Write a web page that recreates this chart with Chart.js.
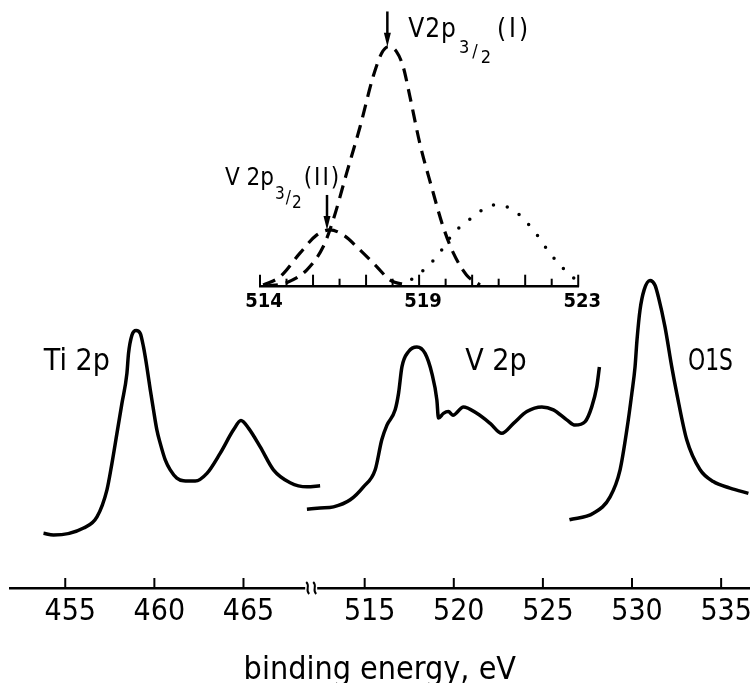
<!DOCTYPE html>
<html>
<head>
<meta charset="utf-8">
<script src="https://cdn.jsdelivr.net/npm/chart.js@4.4.1/dist/chart.umd.min.js"></script>
<style>
  body { margin: 0; background: #fff; }
  #wrap { position: relative; width: 753px; height: 683px; }
  #mainChart { position: absolute; left: 0; top: 0; }
  #insetChart { position: absolute; left: 200px; top: 0; }
</style>
</head>
<body>
<div id="wrap">
  <canvas id="mainChart" width="753" height="683"></canvas>
  <canvas id="insetChart" width="400" height="320"></canvas>
</div>
<script>
// main spectra: binding energy (eV) / intensity (arb. units, 0..100)
const tiEnergy = [453.78, 454.34, 456.03, 456.78, 457.34, 457.62, 457.90, 458.18, 458.46, 458.55, 458.74, 458.98,
  459.21, 459.39, 459.58, 459.77, 459.95, 460.14, 460.33, 460.61, 460.89, 461.26, 461.63, 462.29, 462.95, 463.69,
  464.44, 464.86, 465.28, 465.94, 466.68, 467.62, 468.56, 469.30];
const tiIntensity = [9.3, 9.0, 10.2, 12.1, 16.7, 21.2, 26.3, 31.4, 36.5, 39.9, 43.0, 43.8,
  43.3, 41.0, 37.6, 33.7, 30.3, 26.9, 24.6, 21.8, 20.1, 18.7, 18.25, 18.2, 19.5, 22.9,
  26.9, 28.5, 27.2, 24.0, 20.1, 17.9, 17.2, 17.4];

const vEnergy = [511.76, 512.50, 513.25, 514.19, 514.93, 515.59, 515.96, 516.25, 516.71, 516.90, 517.09, 517.46,
  517.93, 518.39, 518.77, 519.05, 519.14, 519.42, 519.70, 519.95, 520.54, 521.29, 522.04, 522.69, 523.35, 524.10,
  524.94, 525.59, 526.34, 526.81, 527.37, 527.74, 528.02, 528.17];
const vIntensity = [13.4, 13.6, 13.8, 15.0, 17.2, 20.1, 25.2, 27.7, 30.3, 33.1, 37.6, 40.2,
  41.0, 39.9, 36.5, 32.0, 28.9, 29.7, 30.0, 29.4, 30.8, 29.7, 28.0, 26.3, 28.0, 30.0,
  30.8, 30.3, 28.6, 27.7, 28.3, 30.8, 34.2, 37.6];

const oEnergy = [526.49, 527.83, 528.77, 529.33, 529.71, 529.99, 530.17, 530.28, 530.45, 530.68, 531.01, 531.29,
  531.48, 531.85, 532.23, 532.51, 533.07, 533.82, 534.56, 535.50, 536.53];
const oIntensity = [11.6, 12.7, 15.5, 20.1, 26.9, 33.1, 37.6, 42.2, 47.3, 50.7, 52.3, 51.5,
  49.5, 44.4, 37.6, 33.1, 25.2, 20.1, 18.1, 17.0, 16.1];

const mainTicks = [455, 460, 465, 515, 520, 525, 530, 535];

// Ti part is drawn left of the axis break, shifted up by AXIS_GAP eV
const AXIS_GAP = 43.2;
const AXIS_BREAK = 512.0;

// inset: V 2p3/2 components (I), (II) and the third (dotted) band
const fitEnergyI = [514.14, 514.75, 515.32, 515.79, 516.07, 516.45, 516.83, 517.20, 517.44, 517.63, 517.86, 518.05,
  518.24, 518.52, 518.85, 519.18, 519.47, 519.84, 520.22];
const fitIntensityI = [0.2, 1.4, 5.8, 14.0, 23.3, 39.6, 55.8, 73.3, 81.4, 83.7, 82.0, 76.7,
  66.3, 50.0, 34.9, 20.9, 11.7, 4.1, 0.6];

const fitEnergyII = [514.09, 514.57, 515.13, 515.60, 515.98, 516.36, 516.83, 517.30, 517.68, 518.15];
const fitIntensityII = [0.6, 3.5, 11.7, 18.0, 19.8, 18.0, 12.8, 7.0, 2.3, 0.6];

const fitEnergyIII = [517.96, 518.52, 519.00, 519.47, 520.03, 520.60, 521.16, 521.73, 522.20, 522.67, 522.95];
const fitIntensityIII = [0, 4.7, 10.5, 18.6, 24.4, 28.5, 26.8, 19.8, 11.7, 5.2, 2.3];

const insetTickValues = [514, 514.75, 515.5, 516.25, 517, 517.75, 518.5, 519.25, 520, 520.75, 521.5, 522.25, 523];
const insetTickLabels = ['514', '', '', '', '', '', '519', '', '', '', '', '', '523'];

const FONT = "'DejaVu Sans Condensed', 'Liberation Sans', Arial, sans-serif";
const toXY = (xs, ys, shift = 0) => xs.map((x, i) => ({ x: x + shift, y: ys[i] }));

const mainLabels = [
  { text: 'Ti 2p', x: 453.8 + AXIS_GAP, y: 37 },
  { text: 'V 2p', x: 520.64, y: 37 },
  { text: 'O1S', x: 533.14, y: 37, maxWidth: 45 }
];

const mainDecor = {
  id: 'mainDecor',
  afterDraw(chart) {
    const { ctx, chartArea, scales: { x, y } } = chart;
    const base = chartArea.bottom;
    ctx.save();
    ctx.strokeStyle = '#000';
    ctx.lineWidth = 2;
    // ticks point up into the plot
    x.ticks.forEach(t => {
      const px = x.getPixelForValue(t.value);
      ctx.beginPath();
      ctx.moveTo(px, base);
      ctx.lineTo(px, base - 10);
      ctx.stroke();
    });
    // axis break
    const bx = x.getPixelForValue(AXIS_BREAK);
    ctx.fillStyle = '#fff';
    ctx.fillRect(bx - 6, base - 3, 12, 6);
    [-3.5, 3.5].forEach(dx => {
      ctx.beginPath();
      ctx.moveTo(bx + dx - 1.5, base - 6);
      ctx.bezierCurveTo(bx + dx + 3, base - 2, bx + dx - 3, base + 2, bx + dx + 1.5, base + 6);
      ctx.stroke();
    });
    ctx.fillStyle = '#000';
    ctx.font = '30px ' + FONT;
    ctx.textBaseline = 'alphabetic';
    mainLabels.forEach(l => ctx.fillText(l.text, x.getPixelForValue(l.x), y.getPixelForValue(l.y), l.maxWidth));
    ctx.restore();
  }
};

const lineStyle = {
  borderColor: '#000', borderWidth: 3.5, pointRadius: 0,
  cubicInterpolationMode: 'monotone', fill: false
};

new Chart(document.getElementById('mainChart'), {
  type: 'line',
  data: {
    datasets: [
      { label: 'Ti 2p', data: toXY(tiEnergy, tiIntensity, AXIS_GAP), ...lineStyle },
      { label: 'V 2p', data: toXY(vEnergy, vIntensity), ...lineStyle },
      { label: 'O1S', data: toXY(oEnergy, oIntensity), ...lineStyle }
    ]
  },
  options: {
    responsive: false,
    animation: false,
    layout: { padding: { left: 10, right: 3, top: 0, bottom: 0 } },
    plugins: { legend: { display: false }, tooltip: { enabled: false } },
    scales: {
      x: {
        type: 'linear', min: 495.1, max: 536.6,
        afterBuildTicks: s => { s.ticks = mainTicks.map(t => ({ value: t < 490 ? t + AXIS_GAP : t })); },
        afterFit: s => { s.height = 95; },
        grid: { display: false, drawTicks: false },
        border: { display: true, color: '#000', width: 2.5 },
        ticks: {
          color: '#000', font: { family: FONT, size: 30 }, padding: 6,
          autoSkip: false, maxRotation: 0, labelOffset: 5,
          callback: v => v < AXIS_BREAK ? Math.round(v - AXIS_GAP) : v
        },
        title: {
          display: true, text: 'binding energy, eV', color: '#000',
          font: { family: FONT, size: 32, lineHeight: 0.8 }, padding: { top: 0, bottom: 0 }
        }
      },
      y: { display: false, min: 0, max: 100 }
    }
  },
  plugins: [mainDecor]
});

// inset labels and arrows
function drawParts(ctx, x, y, parts) {
  parts.forEach(p => {
    ctx.font = p.size + 'px ' + FONT;
    ctx.letterSpacing = (p.spacing || 0) + 'px';
    ctx.fillText(p.t, x, y + (p.dy || 0));
    x += ctx.measureText(p.t).width + (p.gap || 0);
  });
  ctx.letterSpacing = '0px';
}

function drawArrow(ctx, x, y0, y1) {
  ctx.beginPath();
  ctx.moveTo(x, y0);
  ctx.lineTo(x, y1 - 8);
  ctx.stroke();
  ctx.beginPath();
  ctx.moveTo(x - 3.5, y1 - 14);
  ctx.lineTo(x + 3.5, y1 - 14);
  ctx.lineTo(x, y1);
  ctx.closePath();
  ctx.fill();
}

const insetDecor = {
  id: 'insetDecor',
  afterDraw(chart) {
    const { ctx, chartArea, scales: { x, y } } = chart;
    const base = chartArea.bottom;
    ctx.save();
    ctx.strokeStyle = '#000';
    ctx.fillStyle = '#000';
    ctx.lineWidth = 2;
    x.ticks.forEach((t, i) => {
      const px = x.getPixelForValue(t.value);
      ctx.beginPath();
      ctx.moveTo(px, base);
      ctx.lineTo(px, base - (i % 2 ? 8 : 12));
      ctx.stroke();
    });
    const peakI = fitIntensityI.indexOf(Math.max(...fitIntensityI));
    const peakII = fitIntensityII.indexOf(Math.max(...fitIntensityII));
    ctx.lineWidth = 2.5;
    drawArrow(ctx, x.getPixelForValue(fitEnergyI[peakI]) - 1, y.getPixelForValue(96), y.getPixelForValue(fitIntensityI[peakI]));
    drawArrow(ctx, x.getPixelForValue(fitEnergyII[peakII]) - 3, y.getPixelForValue(32), y.getPixelForValue(fitIntensityII[peakII]));
    ctx.textBaseline = 'alphabetic';
    drawParts(ctx, x.getPixelForValue(518.19), y.getPixelForValue(87.1), [
      { t: 'V2p', size: 26, spacing: 1, gap: 2 },
      { t: '3', size: 18, dy: 16, gap: 3 },
      { t: '/', size: 18, dy: 20, gap: 3 },
      { t: '2', size: 18, dy: 26, gap: 6 },
      { t: '(I)', size: 26, spacing: 3 }
    ]);
    drawParts(ctx, x.getPixelForValue(513.01), y.getPixelForValue(35.5), [
      { t: 'V 2p', size: 24, gap: 1 },
      { t: '3', size: 17, dy: 14, gap: 1 },
      { t: '/', size: 17, dy: 18, gap: 1 },
      { t: '2', size: 17, dy: 23, gap: 2 },
      { t: '(II)', size: 24, spacing: 2 }
    ]);
    ctx.restore();
  }
};

const dashStyle = {
  borderColor: '#000', borderWidth: 3.2, borderDash: [13, 8], pointRadius: 0,
  cubicInterpolationMode: 'monotone', fill: false
};

new Chart(document.getElementById('insetChart'), {
  type: 'line',
  data: {
    datasets: [
      { label: 'V 2p3/2 (I)', data: toXY(fitEnergyI, fitIntensityI), ...dashStyle },
      { label: 'V 2p3/2 (II)', data: toXY(fitEnergyII, fitIntensityII), ...dashStyle },
      {
        label: 'third band', data: toXY(fitEnergyIII, fitIntensityIII), ...dashStyle,
        borderWidth: 3.5, borderDash: [0, 14], borderCapStyle: 'round'
      }
    ]
  },
  options: {
    responsive: false,
    animation: false,
    layout: { padding: { left: 60, right: 21.7, top: 0, bottom: 0 } },
    plugins: { legend: { display: false }, tooltip: { enabled: false } },
    scales: {
      x: {
        type: 'linear', min: 514, max: 523,
        afterBuildTicks: s => { s.ticks = insetTickValues.map(v => ({ value: v })); },
        afterFit: s => { s.height = 33.3; },
        grid: { display: false, drawTicks: false },
        border: { display: true, color: '#000', width: 2.5 },
        ticks: {
          color: '#000', font: { family: FONT, size: 20, weight: 'bold' }, padding: 3,
          autoSkip: false, maxRotation: 0, labelOffset: 4,
          callback: (v, i) => insetTickLabels[i]
        }
      },
      y: { display: false, min: 0, max: 100 }
    }
  },
  plugins: [insetDecor]
});
</script>
</body>
</html>
